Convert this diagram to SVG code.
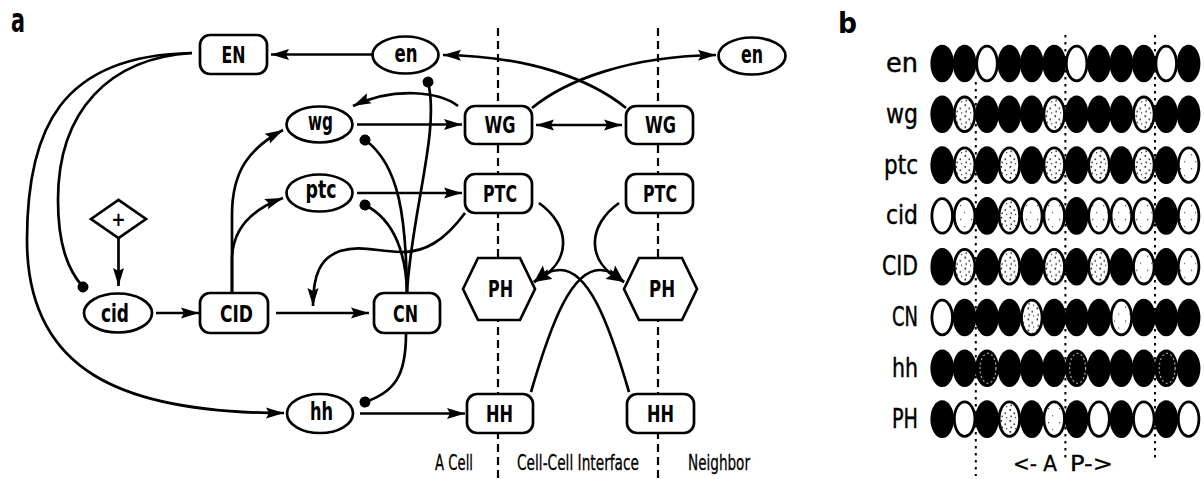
<svg xmlns="http://www.w3.org/2000/svg" width="1204" height="479" viewBox="0 0 1204 479">
  <style>
    .node { fill: #fff; stroke: #000; stroke-width: 2.7; }
    .lbl { font-family: "DejaVu Sans Condensed", "DejaVu Sans", sans-serif; font-weight: bold; text-anchor: middle; fill: #000; }
    .cap { font-size: 23px; }
    .low { font-size: 25px; }
    .edge { fill: none; stroke: #000; stroke-width: 2.7; }
    .arr { marker-end: url(#ah); }
    .inh { marker-end: url(#dot); }
    .bidir { marker-start: url(#ah); marker-end: url(#ah); }
    .bound { stroke: #000; stroke-width: 2.2; stroke-dasharray: 8 5; }
    .zone { font-family: "DejaVu Sans Condensed", "DejaVu Sans", sans-serif; font-size: 21px; text-anchor: middle; fill: #000; stroke: #000; stroke-width: 0.3; }
    .panel { font-family: "DejaVu Sans Condensed", "DejaVu Sans", sans-serif; font-weight: bold; fill: #000; }
    .rowlbl { font-family: "DejaVu Sans Condensed", "DejaVu Sans", sans-serif; font-size: 26px; text-anchor: end; fill: #000; stroke: #000; stroke-width: 0.4; }
    .seg { stroke: #000; stroke-width: 2; stroke-dasharray: 2.5 4.5; }
    .bk { fill: #000; }
    .wh { fill: #fff; stroke: #000; stroke-width: 2.8; }
    .st { fill: url(#stip); stroke: #000; stroke-width: 2.8; }
    .sl { fill: url(#stipLight); stroke: #000; stroke-width: 2.8; }
    .ring { fill: none; stroke: #aaa; stroke-width: 1.2; stroke-dasharray: 2 2.5; }
  </style>
  <defs>
    <marker id="ah" viewBox="0 0 18 12" refX="18" refY="6" markerWidth="18" markerHeight="12" markerUnits="userSpaceOnUse" orient="auto-start-reverse">
      <path d="M0,0.5 L18,6 L0,11.5 L3,6 Z" fill="#000"/>
    </marker>
    <marker id="dot" viewBox="0 0 11 11" refX="5.5" refY="5.5" markerWidth="11" markerHeight="11" markerUnits="userSpaceOnUse" orient="auto">
      <circle cx="5.5" cy="5.5" r="5.5" fill="#000"/>
    </marker>
    <pattern id="stip" patternUnits="userSpaceOnUse" width="9" height="11">
      <rect width="9" height="11" fill="#fff"/>
      <rect x="1.5" y="1" width="1.6" height="1.6" fill="#111"/>
      <rect x="5.5" y="4.5" width="1.6" height="1.3" fill="#111"/>
      <rect x="2.5" y="7.5" width="1.3" height="1.6" fill="#111"/>
      <rect x="7" y="9" width="1.2" height="1.2" fill="#333"/>
    </pattern>
    <pattern id="stipLight" patternUnits="userSpaceOnUse" width="11" height="14">
      <rect width="11" height="14" fill="#fff"/>
      <rect x="3" y="3" width="1.2" height="1.2" fill="#444"/>
      <rect x="7" y="10" width="1.2" height="1.2" fill="#666"/>
    </pattern>
  </defs>

  <rect width="1204" height="479" fill="#fff"/>

  <!-- panel a: regulatory network -->
  <text class="panel" x="11" y="32" font-size="33" textLength="14" lengthAdjust="spacingAndGlyphs">a</text>

  <!-- cell boundaries -->
  <g id="boundaries">
    <line class="bound" x1="498" y1="28" x2="498" y2="479"/>
    <line class="bound" x1="658" y1="28" x2="658" y2="479"/>
  </g>

  <g id="connectors">
    <path class="edge arr" d="M 372 54.5 L 271 54.5"/>
    <path class="edge arr" d="M 626 108 C 592 80, 530 56, 443 55"/>
    <path class="edge arr" d="M 532 108 C 566 80, 630 56, 716 55"/>
    <path class="edge bidir" d="M 536 125 L 622 125"/>
    <path class="edge arr" d="M 357 124.5 L 462 124.5"/>
    <path class="edge arr" d="M 357 193 L 462 193"/>
    <path class="edge arr" d="M 458 106 C 440 92, 395 86, 353 106"/>
    <path class="edge inh" d="M 407 292 C 412 210, 440 130, 428 82"/>
    <path class="edge inh" d="M 407 292 C 406 220, 400 165, 365 140"/>
    <path class="edge inh" d="M 407 292 C 406 255, 395 220, 365 205"/>
    <path class="edge arr" d="M 465 213 C 445 240, 425 253, 400 252 C 375 251, 360 245, 340 251 C 320 258, 313 275, 313 306"/>
    <path class="edge arr" d="M 232 293 L 232 215 C 232 170, 250 148, 283 130"/>
    <path class="edge arr" d="M 232 293 L 232 260 C 232 230, 250 210, 283 198"/>
    <path class="edge arr" d="M 156 313 L 199 313"/>
    <path class="edge arr" d="M 276 313 L 369 313"/>
    <path class="edge arr" d="M 118.5 238 L 118.5 286"/>
    <path class="edge inh" d="M 192 53 C 110 58, 58 110, 58 200 C 58 245, 68 270, 83 287"/>
    <path class="edge arr" d="M 192 53 C 60 55, 27 130, 27 240 C 27 370, 120 413, 284 413"/>
    <path class="edge inh" d="M 406 334 C 406 375, 395 392, 365 402"/>
    <path class="edge arr" d="M 360 413.5 L 465 413.5"/>
    <path class="edge arr" d="M 539 203 C 570 225, 574 262, 534 282"/>
    <path class="edge arr" d="M 619 203 C 588 225, 584 262, 624 282"/>
    <path class="edge arr" d="M 531 392 C 552 320, 572 270, 600 270 C 610 270, 617 275, 624 282"/>
    <path class="edge arr" d="M 629 392 C 608 320, 588 270, 560 270 C 550 270, 541 275, 534 282"/>
  </g>

  <g id="EN">
    <rect class="node" x="200" y="35" width="67" height="39" rx="10"/>
    <text class="lbl cap" x="233.5" y="63" textLength="24" lengthAdjust="spacingAndGlyphs">EN</text>
  </g>
  <g id="en-cell">
    <ellipse class="node" cx="405.5" cy="55" rx="33" ry="18.5"/>
    <text class="lbl low" x="406" y="62" textLength="23" lengthAdjust="spacingAndGlyphs">en</text>
  </g>
  <g id="en-neighbor">
    <ellipse class="node" cx="752" cy="56" rx="33.5" ry="18.5"/>
    <text class="lbl low" x="752" y="63" textLength="22" lengthAdjust="spacingAndGlyphs">en</text>
  </g>
  <g id="wg">
    <ellipse class="node" cx="319.5" cy="124.5" rx="33" ry="18"/>
    <text class="lbl low" x="320.5" y="130" textLength="25" lengthAdjust="spacingAndGlyphs">wg</text>
  </g>
  <g id="ptc">
    <ellipse class="node" cx="319.5" cy="193" rx="33" ry="18.5"/>
    <text class="lbl low" x="321" y="198" textLength="31" lengthAdjust="spacingAndGlyphs">ptc</text>
  </g>
  <g id="WG-cell">
    <rect class="node" x="465" y="106" width="67" height="38" rx="10"/>
    <text class="lbl cap" x="500" y="133" textLength="31" lengthAdjust="spacingAndGlyphs">WG</text>
  </g>
  <g id="WG-neighbor">
    <rect class="node" x="626" y="106" width="67" height="38" rx="10"/>
    <text class="lbl cap" x="660.5" y="133" textLength="31" lengthAdjust="spacingAndGlyphs">WG</text>
  </g>
  <g id="PTC-cell">
    <rect class="node" x="465" y="174" width="67" height="39" rx="10"/>
    <text class="lbl cap" x="500" y="202" textLength="34" lengthAdjust="spacingAndGlyphs">PTC</text>
  </g>
  <g id="PTC-neighbor">
    <rect class="node" x="626" y="174" width="67" height="39" rx="10"/>
    <text class="lbl cap" x="660" y="202" textLength="34" lengthAdjust="spacingAndGlyphs">PTC</text>
  </g>
  <g id="plus">
    <polygon class="node" points="91,219 118.5,200 146,219 118.5,238"/>
    <text class="lbl" x="118.5" y="225.5" font-size="19">+</text>
  </g>
  <g id="cid">
    <ellipse class="node" cx="118" cy="313" rx="34" ry="19.5"/>
    <text class="lbl low" x="115" y="322" textLength="28" lengthAdjust="spacingAndGlyphs">cid</text>
  </g>
  <g id="CID">
    <rect class="node" x="200" y="293" width="68" height="40" rx="10"/>
    <text class="lbl cap" x="236.5" y="322" textLength="33" lengthAdjust="spacingAndGlyphs">CID</text>
  </g>
  <g id="CN">
    <rect class="node" x="374" y="293" width="66" height="40" rx="10"/>
    <text class="lbl cap" x="405.5" y="322" textLength="25" lengthAdjust="spacingAndGlyphs">CN</text>
  </g>
  <g id="hh">
    <ellipse class="node" cx="320" cy="413.5" rx="33" ry="19.5"/>
    <text class="lbl low" x="321.5" y="420" textLength="23" lengthAdjust="spacingAndGlyphs">hh</text>
  </g>
  <g id="PH-cell">
    <polygon class="node" points="463,289 478,258 520,258 535,289 520,320 478,320"/>
    <text class="lbl cap" x="500.5" y="297" textLength="25" lengthAdjust="spacingAndGlyphs">PH</text>
  </g>
  <g id="PH-neighbor">
    <polygon class="node" points="624,289 639,258 682,258 697,289 682,320 639,320"/>
    <text class="lbl cap" x="662" y="297" textLength="26" lengthAdjust="spacingAndGlyphs">PH</text>
  </g>
  <g id="HH-cell">
    <rect class="node" x="467" y="394" width="66" height="39" rx="10"/>
    <text class="lbl cap" x="499.5" y="422" textLength="27" lengthAdjust="spacingAndGlyphs">HH</text>
  </g>
  <g id="HH-neighbor">
    <rect class="node" x="627" y="394" width="67" height="39" rx="10"/>
    <text class="lbl cap" x="660.5" y="422" textLength="27" lengthAdjust="spacingAndGlyphs">HH</text>
  </g>

  <g id="zone-labels">
    <text class="zone" x="454" y="470" textLength="38" lengthAdjust="spacingAndGlyphs">A Cell</text>
    <text class="zone" x="578" y="470" textLength="122" lengthAdjust="spacingAndGlyphs">Cell-Cell Interface</text>
    <text class="zone" x="719" y="470" textLength="62" lengthAdjust="spacingAndGlyphs">Neighbor</text>
  </g>

  <!-- panel b: expression pattern across twelve cells -->
  <text class="panel" x="838" y="33" font-size="28" textLength="19" lengthAdjust="spacingAndGlyphs">b</text>

  <g id="segment-borders">
    <line class="seg" x1="975.8" y1="82" x2="975.8" y2="476"/>
    <line class="seg" x1="1065.4" y1="35" x2="1065.4" y2="458"/>
    <line class="seg" x1="1155" y1="35" x2="1155" y2="458"/>
  </g>

  <g id="row-labels">
    <text class="rowlbl" x="918" y="72" textLength="32" lengthAdjust="spacingAndGlyphs">en</text>
    <text class="rowlbl" x="918" y="122.8" textLength="32" lengthAdjust="spacingAndGlyphs">wg</text>
    <text class="rowlbl" x="918" y="173.6" textLength="34" lengthAdjust="spacingAndGlyphs">ptc</text>
    <text class="rowlbl" x="918" y="224.4" textLength="32" lengthAdjust="spacingAndGlyphs">cid</text>
    <text class="rowlbl" x="918" y="275.2" textLength="36" lengthAdjust="spacingAndGlyphs">CID</text>
    <text class="rowlbl" x="918" y="326" textLength="26" lengthAdjust="spacingAndGlyphs">CN</text>
    <text class="rowlbl" x="918" y="376.8" textLength="26" lengthAdjust="spacingAndGlyphs">hh</text>
    <text class="rowlbl" x="918" y="427.6" textLength="26" lengthAdjust="spacingAndGlyphs">PH</text>
  </g>

  <!-- en: B B W B B B W B B B W B -->
  <g id="row-en" transform="translate(0,63.5)">
    <ellipse class="bk" cx="942.2" rx="11.8" ry="18.8"/>
    <ellipse class="bk" cx="964.6" rx="11.8" ry="18.8"/>
    <ellipse class="bk" cx="1009.4" rx="11.8" ry="18.8"/>
    <ellipse class="bk" cx="1031.8" rx="11.8" ry="18.8"/>
    <ellipse class="bk" cx="1054.2" rx="11.8" ry="18.8"/>
    <ellipse class="bk" cx="1099" rx="11.8" ry="18.8"/>
    <ellipse class="bk" cx="1121.4" rx="11.8" ry="18.8"/>
    <ellipse class="bk" cx="1143.8" rx="11.8" ry="18.8"/>
    <ellipse class="bk" cx="1188.6" rx="11.8" ry="18.8"/>
    <ellipse class="wh" cx="987" rx="10.3" ry="17.3"/>
    <ellipse class="wh" cx="1076.6" rx="10.3" ry="17.3"/>
    <ellipse class="wh" cx="1166.2" rx="10.3" ry="17.3"/>
  </g>
  <!-- wg: B S B B B S B B B S B B -->
  <g id="row-wg" transform="translate(0,114.3)">
    <ellipse class="bk" cx="942.2" rx="11.8" ry="18.8"/>
    <ellipse class="bk" cx="987" rx="11.8" ry="18.8"/>
    <ellipse class="bk" cx="1009.4" rx="11.8" ry="18.8"/>
    <ellipse class="bk" cx="1031.8" rx="11.8" ry="18.8"/>
    <ellipse class="bk" cx="1076.6" rx="11.8" ry="18.8"/>
    <ellipse class="bk" cx="1099" rx="11.8" ry="18.8"/>
    <ellipse class="bk" cx="1121.4" rx="11.8" ry="18.8"/>
    <ellipse class="bk" cx="1166.2" rx="11.8" ry="18.8"/>
    <ellipse class="bk" cx="1188.6" rx="11.8" ry="18.8"/>
    <ellipse class="st" cx="964.6" rx="10.3" ry="17.3"/>
    <ellipse class="st" cx="1054.2" rx="10.3" ry="17.3"/>
    <ellipse class="st" cx="1143.8" rx="10.3" ry="17.3"/>
  </g>
  <!-- ptc: B S B S B S B S B S B S -->
  <g id="row-ptc" transform="translate(0,165.1)">
    <ellipse class="bk" cx="942.2" rx="11.8" ry="18.8"/>
    <ellipse class="bk" cx="987" rx="11.8" ry="18.8"/>
    <ellipse class="bk" cx="1031.8" rx="11.8" ry="18.8"/>
    <ellipse class="bk" cx="1076.6" rx="11.8" ry="18.8"/>
    <ellipse class="bk" cx="1121.4" rx="11.8" ry="18.8"/>
    <ellipse class="bk" cx="1166.2" rx="11.8" ry="18.8"/>
    <ellipse class="st" cx="964.6" rx="10.3" ry="17.3"/>
    <ellipse class="st" cx="1009.4" rx="10.3" ry="17.3"/>
    <ellipse class="st" cx="1054.2" rx="10.3" ry="17.3"/>
    <ellipse class="st" cx="1099" rx="10.3" ry="17.3"/>
    <ellipse class="st" cx="1143.8" rx="10.3" ry="17.3"/>
    <ellipse class="sl" cx="1188.6" rx="10.3" ry="17.3"/>
  </g>
  <!-- cid: W S B S W S B S W S B S -->
  <g id="row-cid" transform="translate(0,215.9)">
    <ellipse class="bk" cx="987" rx="11.8" ry="18.8"/>
    <ellipse class="bk" cx="1076.6" rx="11.8" ry="18.8"/>
    <ellipse class="bk" cx="1166.2" rx="11.8" ry="18.8"/>
    <ellipse class="wh" cx="942.2" rx="10.3" ry="17.3"/>
    <ellipse class="sl" cx="964.6" rx="10.3" ry="17.3"/>
    <ellipse class="st" cx="1009.4" rx="10.3" ry="17.3"/>
    <ellipse class="sl" cx="1031.8" rx="10.3" ry="17.3"/>
    <ellipse class="sl" cx="1054.2" rx="10.3" ry="17.3"/>
    <ellipse class="sl" cx="1099" rx="10.3" ry="17.3"/>
    <ellipse class="sl" cx="1121.4" rx="10.3" ry="17.3"/>
    <ellipse class="sl" cx="1143.8" rx="10.3" ry="17.3"/>
    <ellipse class="sl" cx="1188.6" rx="10.3" ry="17.3"/>
  </g>
  <!-- CID: B S B S B S B S B S B S -->
  <g id="row-CID" transform="translate(0,266.7)">
    <ellipse class="bk" cx="942.2" rx="11.8" ry="18.8"/>
    <ellipse class="bk" cx="987" rx="11.8" ry="18.8"/>
    <ellipse class="bk" cx="1031.8" rx="11.8" ry="18.8"/>
    <ellipse class="bk" cx="1076.6" rx="11.8" ry="18.8"/>
    <ellipse class="bk" cx="1121.4" rx="11.8" ry="18.8"/>
    <ellipse class="bk" cx="1166.2" rx="11.8" ry="18.8"/>
    <ellipse class="st" cx="964.6" rx="10.3" ry="17.3"/>
    <ellipse class="st" cx="1009.4" rx="10.3" ry="17.3"/>
    <ellipse class="st" cx="1054.2" rx="10.3" ry="17.3"/>
    <ellipse class="st" cx="1099" rx="10.3" ry="17.3"/>
    <ellipse class="sl" cx="1143.8" rx="10.3" ry="17.3"/>
    <ellipse class="sl" cx="1188.6" rx="10.3" ry="17.3"/>
  </g>
  <!-- CN: W B B B S B B B S B B B -->
  <g id="row-CN" transform="translate(0,317.5)">
    <ellipse class="bk" cx="964.6" rx="11.8" ry="18.8"/>
    <ellipse class="bk" cx="987" rx="11.8" ry="18.8"/>
    <ellipse class="bk" cx="1009.4" rx="11.8" ry="18.8"/>
    <ellipse class="bk" cx="1054.2" rx="11.8" ry="18.8"/>
    <ellipse class="bk" cx="1076.6" rx="11.8" ry="18.8"/>
    <ellipse class="bk" cx="1099" rx="11.8" ry="18.8"/>
    <ellipse class="bk" cx="1143.8" rx="11.8" ry="18.8"/>
    <ellipse class="bk" cx="1166.2" rx="11.8" ry="18.8"/>
    <ellipse class="bk" cx="1188.6" rx="11.8" ry="18.8"/>
    <ellipse class="wh" cx="942.2" rx="10.3" ry="17.3"/>
    <ellipse class="st" cx="1031.8" rx="10.3" ry="17.3"/>
    <ellipse class="sl" cx="1121.4" rx="10.3" ry="17.3"/>
  </g>
  <!-- hh: B B D B B B D B B B D B -->
  <g id="row-hh" transform="translate(0,368.3)">
    <ellipse class="bk" cx="942.2" rx="11.8" ry="18.8"/>
    <ellipse class="bk" cx="964.6" rx="11.8" ry="18.8"/>
    <ellipse class="bk" cx="987" rx="11.8" ry="18.8"/>
    <ellipse class="bk" cx="1009.4" rx="11.8" ry="18.8"/>
    <ellipse class="bk" cx="1031.8" rx="11.8" ry="18.8"/>
    <ellipse class="bk" cx="1054.2" rx="11.8" ry="18.8"/>
    <ellipse class="bk" cx="1076.6" rx="11.8" ry="18.8"/>
    <ellipse class="bk" cx="1099" rx="11.8" ry="18.8"/>
    <ellipse class="bk" cx="1121.4" rx="11.8" ry="18.8"/>
    <ellipse class="bk" cx="1143.8" rx="11.8" ry="18.8"/>
    <ellipse class="bk" cx="1166.2" rx="11.8" ry="18.8"/>
    <ellipse class="bk" cx="1188.6" rx="11.8" ry="18.8"/>
    <ellipse class="ring" cx="988" rx="8" ry="15"/>
    <ellipse class="ring" cx="1077.6" rx="8" ry="15"/>
    <ellipse class="ring" cx="1167.2" rx="8" ry="15"/>
  </g>
  <!-- PH: B W B S B S B W B W B W -->
  <g id="row-PH" transform="translate(0,419.1)">
    <ellipse class="bk" cx="942.2" rx="11.8" ry="18.8"/>
    <ellipse class="bk" cx="987" rx="11.8" ry="18.8"/>
    <ellipse class="bk" cx="1031.8" rx="11.8" ry="18.8"/>
    <ellipse class="bk" cx="1076.6" rx="11.8" ry="18.8"/>
    <ellipse class="bk" cx="1121.4" rx="11.8" ry="18.8"/>
    <ellipse class="bk" cx="1166.2" rx="11.8" ry="18.8"/>
    <ellipse class="wh" cx="964.6" rx="10.3" ry="17.3"/>
    <ellipse class="st" cx="1009.4" rx="10.3" ry="17.3"/>
    <ellipse class="sl" cx="1054.2" rx="10.3" ry="17.3"/>
    <ellipse class="wh" cx="1099" rx="10.3" ry="17.3"/>
    <ellipse class="wh" cx="1143.8" rx="10.3" ry="17.3"/>
    <ellipse class="wh" cx="1188.6" rx="10.3" ry="17.3"/>
  </g>

  <g id="axis-labels">
    <text class="zone" x="1035" y="471" font-size="20" textLength="44" lengthAdjust="spacingAndGlyphs">&lt;- A</text>
    <text class="zone" x="1091.5" y="471" font-size="20" textLength="43" lengthAdjust="spacingAndGlyphs">P-&gt;</text>
  </g>
</svg>
